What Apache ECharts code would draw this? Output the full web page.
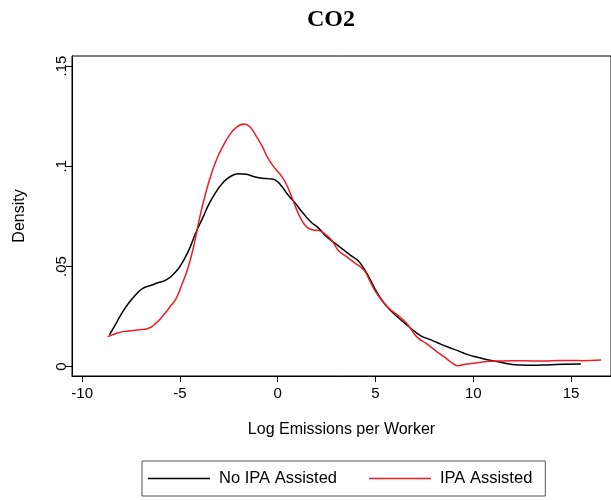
<!DOCTYPE html>
<html>
<head>
<meta charset="utf-8">
<script src="https://cdn.jsdelivr.net/npm/echarts@6/dist/echarts.min.js"></script>
<style>html,body{margin:0;padding:0;background:#fff;}#c{width:611px;height:500px;}</style>
</head>
<body>
<div id="c"></div>
<script>
// ---- data ----
var titleText = 'CO2';
var xTitle = 'Log Emissions per Worker';
var yTitle = 'Density';
var seriesNames = ['No IPA Assisted', 'IPA Assisted'];
var xTicks = [-10, -5, 0, 5, 10, 15];
var yTicks = [0, 0.05, 0.1, 0.15];

var noIpaX = [-8.6,-8.3,-8.0,-7.6,-7.2,-6.9,-6.5,-6.2,-5.7,-5.3,-5.0,-4.6,-4.2,-3.8,-3.5,-3.1,-2.8,-2.4,-2.0,-1.6,-1.2,-0.8,-0.4,-0.1,0.2,0.5,0.9,1.3,1.7,2.1,2.5,3.0,3.4,3.8,4.1,4.4,4.7,5.1,5.5,5.9,6.4,6.8,7.3,7.8,8.2,8.7,9.2,9.6,10.0,10.5,11.0,11.5,12.0,12.5,13.0,13.5,14.0,14.6,15.5];
var noIpaY = [0.0160,0.0210,0.0262,0.0320,0.0365,0.0391,0.0405,0.0416,0.0433,0.0465,0.0500,0.0570,0.0666,0.0750,0.0815,0.0880,0.0918,0.0950,0.0963,0.0960,0.0948,0.0940,0.0937,0.0930,0.0900,0.0860,0.0815,0.0765,0.0722,0.0690,0.0648,0.0610,0.0580,0.0550,0.0530,0.0490,0.0440,0.0366,0.0310,0.0268,0.0225,0.0192,0.0155,0.0135,0.0118,0.0098,0.0080,0.0064,0.0052,0.0040,0.0030,0.0020,0.0011,0.0008,0.0007,0.0008,0.0010,0.0012,0.0013];

var ipaX = [-8.7,-8.2,-7.9,-7.2,-6.6,-6.2,-5.9,-5.5,-5.2,-4.9,-4.6,-4.3,-4.0,-3.7,-3.4,-3.1,-2.8,-2.5,-2.1,-1.7,-1.4,-1.1,-0.8,-0.5,-0.1,0.2,0.5,0.9,1.2,1.5,1.8,2.1,2.5,2.8,3.1,3.5,3.9,4.4,4.7,5.0,5.3,5.7,6.1,6.6,7.1,7.6,8.1,8.5,8.9,9.2,9.6,10.2,10.7,11.2,12.2,13.0,13.6,14.4,15.0,15.6,16.0,16.53];
var ipaY = [0.0150,0.0168,0.0175,0.0183,0.0192,0.0220,0.0250,0.0300,0.0340,0.0410,0.0490,0.0600,0.0740,0.0860,0.0960,0.1040,0.1100,0.1150,0.1195,0.1211,0.1195,0.1150,0.1100,0.1040,0.0985,0.0950,0.0898,0.0800,0.0735,0.0695,0.0682,0.0680,0.0655,0.0625,0.0580,0.0550,0.0520,0.0483,0.0430,0.0375,0.0333,0.0290,0.0260,0.0215,0.0150,0.0115,0.0078,0.0050,0.0020,0.0005,0.0012,0.0020,0.0026,0.0029,0.0030,0.0029,0.0029,0.0031,0.0031,0.0030,0.0031,0.0033];

function pairs(xs, ys) { return xs.map(function (x, i) { return [x, ys[i]]; }); }

var FONT = 'Liberation Sans';
var RED = '#ee1c25';
var chart = echarts.init(document.getElementById('c'), null, { renderer: 'canvas' });
chart.setOption({
  animation: false,
  backgroundColor: '#ffffff',
  title: {
    text: titleText, left: 326, top: 3, textAlign: 'center',
    textStyle: { fontFamily: 'Liberation Serif', fontWeight: 'bold', fontSize: 24, color: '#000' }
  },
  grid: { left: 72, right: -4, top: 56, bottom: 124, show: true, borderColor: '#000', borderWidth: 1, backgroundColor: '#fff' },
  xAxis: {
    type: 'value', min: -10.52, max: 17.04,
    name: xTitle, nameLocation: 'middle', nameGap: 46,
    nameTextStyle: { fontFamily: FONT, fontSize: 16, color: '#000' },
    axisLine: { show: true, onZero: false, lineStyle: { color: '#000', width: 1 } },
    axisTick: { show: true, length: 6, lineStyle: { color: '#000' }, customValues: xTicks },
    axisLabel: { fontFamily: FONT, fontSize: 15, color: '#000', margin: 10, customValues: xTicks },
    splitLine: { show: false }
  },
  yAxis: {
    type: 'value', min: -0.00464, max: 0.155,
    name: yTitle, nameLocation: 'middle', nameGap: 44,
    nameTextStyle: { fontFamily: FONT, fontSize: 16, color: '#000' },
    axisLine: { show: true, onZero: false, lineStyle: { color: '#000', width: 1 } },
    axisTick: { show: true, length: 6, lineStyle: { color: '#000' }, customValues: yTicks },
    axisLabel: {
      fontFamily: FONT, fontSize: 15, color: '#000', margin: 3, rotate: 90, customValues: yTicks,
      formatter: function (v) { return v === 0 ? '0' : String(v).replace(/^0\./, '.'); }
    },
    splitLine: { show: false }
  },
  legend: {
    data: seriesNames, left: 142, bottom: 4,
    orient: 'horizontal', icon: 'rect', itemWidth: 62, itemHeight: 1.5, itemGap: 32,
    borderColor: '#555', borderWidth: 1, padding: [9, 13, 9, 6],
    textStyle: { fontFamily: FONT, fontSize: 16.5, color: '#000', padding: [0, 0, 0, 4] }
  },
  series: [
    { name: seriesNames[0], type: 'line', data: pairs(noIpaX, noIpaY), smooth: 0.5, showSymbol: false,
      lineStyle: { color: '#000', width: 1.5 }, itemStyle: { color: '#000' } },
    { name: seriesNames[1], type: 'line', data: pairs(ipaX, ipaY), smooth: 0.5, showSymbol: false,
      lineStyle: { color: RED, width: 1.5 }, itemStyle: { color: RED } }
  ]
});
</script>
</body>
</html>
